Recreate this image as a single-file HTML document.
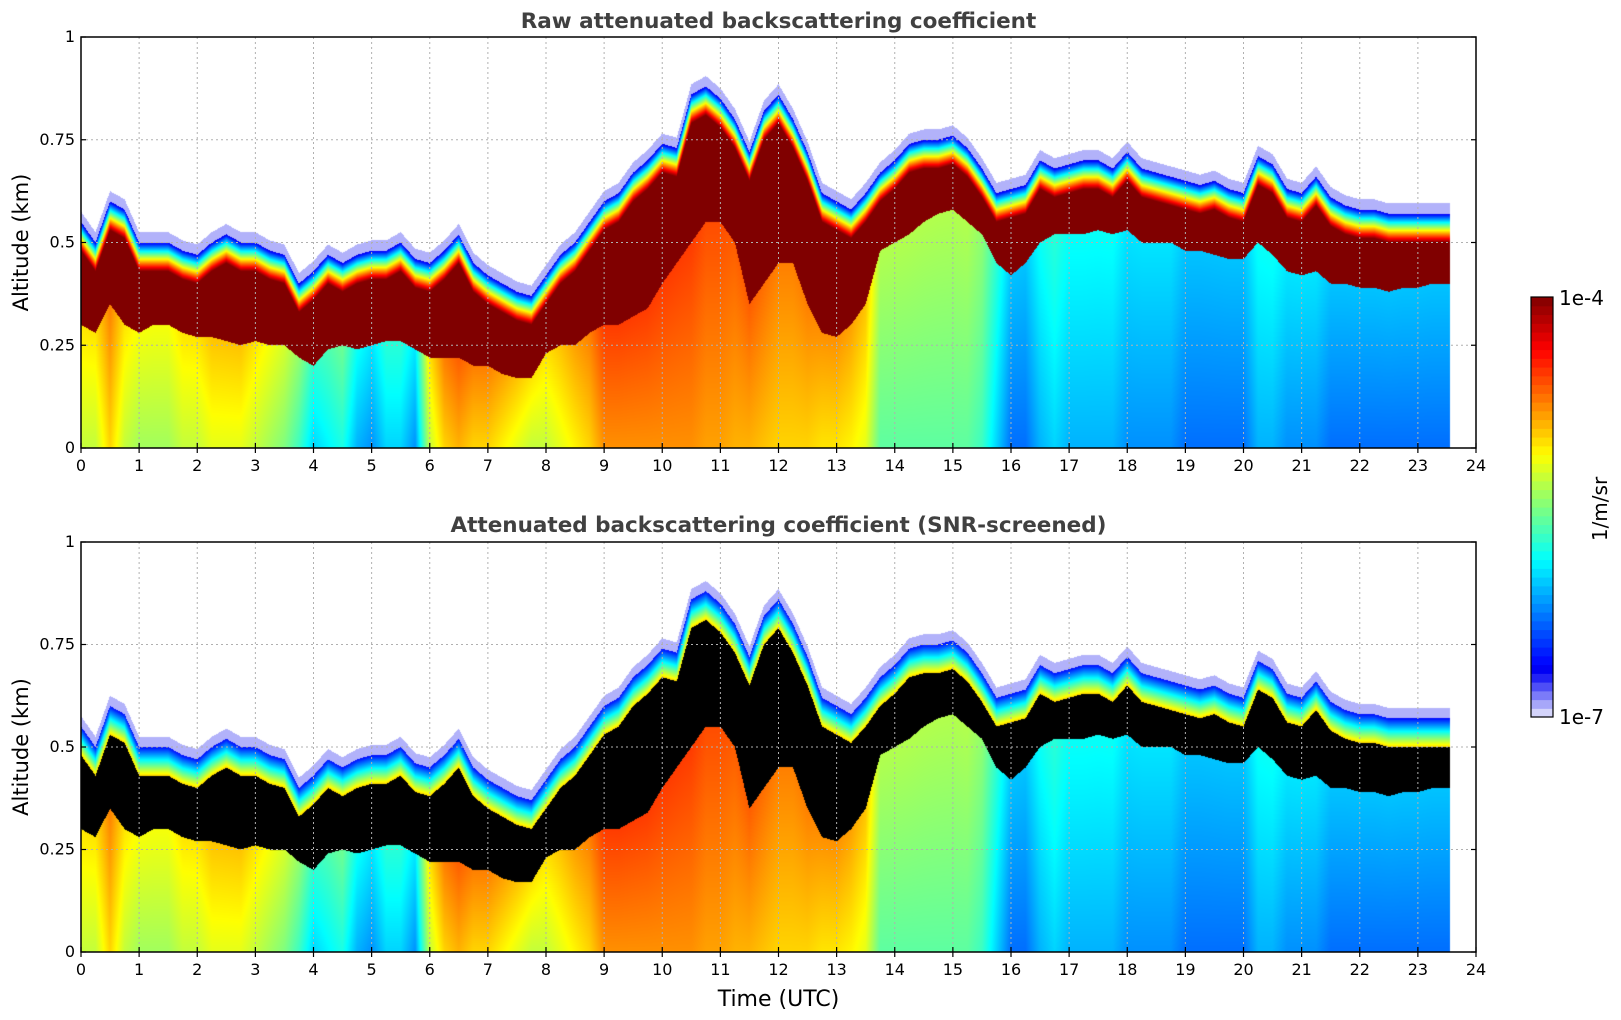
<!DOCTYPE html>
<html><head><meta charset="utf-8">
<style>
body{margin:0;background:#fff;width:1621px;height:1020px;overflow:hidden;position:relative;font-family:"DejaVu Sans","Liberation Sans",sans-serif}
canvas{position:absolute}
svg{position:absolute;left:0;top:0}
</style></head><body>
<canvas id="c1" width="1395" height="411" style="left:81px;top:37px"></canvas>
<canvas id="c2" width="1395" height="410" style="left:81px;top:542px"></canvas>
<svg id="ov" width="1621" height="1020"></svg>
<script>
const times=[0,0.25,0.5,0.75,1,1.25,1.5,1.75,2,2.25,2.5,2.75,3,3.25,3.5,3.75,4,4.25,4.5,4.75,5,5.25,5.5,5.75,6,6.25,6.5,6.75,7,7.25,7.5,7.75,8,8.25,8.5,8.75,9,9.25,9.5,9.75,10,10.25,10.5,10.75,11,11.25,11.5,11.75,12,12.25,12.5,12.75,13,13.25,13.5,13.75,14,14.25,14.5,14.75,15,15.25,15.5,15.75,16,16.25,16.5,16.75,17,17.25,17.5,17.75,18,18.25,18.5,18.75,19,19.25,19.5,19.75,20,20.25,20.5,20.75,21,21.25,21.5,21.75,22,22.25,22.5,22.75,23,23.25,23.5];
const cloudTop=[0.55,0.5,0.6,0.58,0.5,0.5,0.5,0.48,0.47,0.5,0.52,0.5,0.5,0.48,0.47,0.4,0.43,0.47,0.45,0.47,0.48,0.48,0.5,0.46,0.45,0.48,0.52,0.45,0.42,0.4,0.38,0.37,0.42,0.47,0.5,0.55,0.6,0.62,0.67,0.7,0.74,0.73,0.86,0.88,0.85,0.8,0.72,0.82,0.86,0.8,0.72,0.62,0.6,0.58,0.62,0.67,0.7,0.74,0.75,0.75,0.76,0.73,0.68,0.62,0.63,0.64,0.7,0.68,0.69,0.7,0.7,0.68,0.72,0.68,0.67,0.66,0.65,0.64,0.65,0.63,0.62,0.71,0.69,0.63,0.62,0.66,0.61,0.59,0.58,0.58,0.57,0.57,0.57,0.57,0.57];
const cloudBase=[0.3,0.28,0.35,0.3,0.28,0.3,0.3,0.28,0.27,0.27,0.26,0.25,0.26,0.25,0.25,0.22,0.2,0.24,0.25,0.24,0.25,0.26,0.26,0.24,0.22,0.22,0.22,0.2,0.2,0.18,0.17,0.17,0.23,0.25,0.25,0.28,0.3,0.3,0.32,0.34,0.4,0.45,0.5,0.55,0.55,0.5,0.35,0.4,0.45,0.45,0.35,0.28,0.27,0.3,0.35,0.48,0.5,0.52,0.55,0.57,0.58,0.55,0.52,0.45,0.42,0.45,0.5,0.52,0.52,0.52,0.53,0.52,0.53,0.5,0.5,0.5,0.48,0.48,0.47,0.46,0.46,0.5,0.47,0.43,0.42,0.43,0.4,0.4,0.39,0.39,0.38,0.39,0.39,0.4,0.4];
const lowLogBeta=[-5.3,-5.3,-5.0,-5.3,-5.4,-5.4,-5.4,-5.3,-5.3,-5.2,-5.2,-5.2,-5.3,-5.4,-5.5,-5.7,-6.0,-5.9,-5.8,-6.1,-6.2,-6.0,-6.0,-6.2,-5.3,-5.0,-4.9,-5.0,-5.0,-5.1,-5.2,-5.3,-5.3,-5.2,-5.1,-5.0,-4.8,-4.8,-4.8,-4.8,-4.8,-4.8,-4.8,-4.85,-4.85,-4.9,-4.9,-4.95,-5.0,-5.0,-5.0,-5.05,-5.05,-5.1,-5.2,-5.6,-5.6,-5.6,-5.6,-5.6,-5.6,-5.6,-5.7,-6.0,-6.3,-6.3,-6.1,-6.0,-6.1,-6.1,-6.1,-6.1,-6.2,-6.2,-6.2,-6.2,-6.3,-6.3,-6.3,-6.3,-6.3,-6.1,-6.1,-6.2,-6.2,-6.2,-6.3,-6.3,-6.3,-6.3,-6.3,-6.3,-6.3,-6.3,-6.3];
const xTicks=[0,1,2,3,4,5,6,7,8,9,10,11,12,13,14,15,16,17,18,19,20,21,22,23,24];
const yTicks=[0,0.25,0.5,0.75,1];
const yTickLabels=["0","0.25","0.5","0.75","1"];
const dataEnd=23.55;

const PL=81,PR=1476,panels=[{top:37,bot:448,cv:'c1',screened:false},{top:542,bot:952,cv:'c2',screened:true}];
const xScale=t=>PL+(PR-PL)*t/24;
function jet(v){
  const r=Math.min(Math.max(Math.min(4*v-1.5,-4*v+4.5),0),1);
  const g=Math.min(Math.max(Math.min(4*v-0.5,-4*v+3.5),0),1);
  const b=Math.min(Math.max(Math.min(4*v+0.5,-4*v+2.5),0),1);
  return [r*255,g*255,b*255];
}
function cmap(lg){
  let v=(lg+7)/3; v=Math.max(0,Math.min(1,v));
  if(v<0.1){const k=v/0.1;const l=[235,235,252],b=[20,20,245];return [l[0]+(b[0]-l[0])*k,l[1]+(b[1]-l[1])*k,l[2]+(b[2]-l[2])*k];}
  return jet(v);
}
function interp(arr,t){
  if(t<=times[0])return arr[0];
  for(let i=0;i<times.length-1;i++){if(t<=times[i+1]){const k=(t-times[i])/(times[i+1]-times[i]);return arr[i]+(arr[i+1]-arr[i])*k;}}
  return arr[arr.length-1];
}
panels.forEach(p=>{
  const cv=document.getElementById(p.cv),ctx=cv.getContext('2d');
  const W=cv.width,H=cv.height,img=ctx.createImageData(W,H),d=img.data;
  for(let x=0;x<W;x++){
    const t=(x+0.5)/W*24;
    for(let y=0;y<H;y++){
      const i=(y*W+x)*4;let c=[255,255,255];
      if(t<=dataEnd){
        const z=1-(y+0.5)/H;
        const top=interp(cloudTop,t),base=interp(cloudBase,t),low=interp(lowLogBeta,t);
        const tr=top-0.07;
        if(z<base){c=cmap(low+(z/Math.max(base,0.01))*0.25);}
        else if(z<tr){c=p.screened?[0,0,0]:cmap(-4.0);}
        else if(z<top){const k=(z-tr)/(top-tr);c=cmap((p.screened?-5.0:-4.0)+k*(p.screened?-1.6:-2.7));}
        else if(z<top+0.025){c=cmap(-6.92);}
      }
      d[i]=c[0];d[i+1]=c[1];d[i+2]=c[2];d[i+3]=255;
    }
  }
  ctx.putImageData(img,0,0);
});
const NS='http://www.w3.org/2000/svg',ov=document.getElementById('ov');
function mk(tag,attrs,txt){const e=document.createElementNS(NS,tag);for(const k in attrs)e.setAttribute(k,attrs[k]);if(txt!==undefined)e.textContent=txt;ov.appendChild(e);return e;}
const titles=["Raw attenuated backscattering coefficient","Attenuated backscattering coefficient (SNR-screened)"];
const titleY=[28,532];
panels.forEach((p,pi)=>{
  const yS=v=>p.bot-(p.bot-p.top)*v;
  xTicks.forEach((t,i)=>{
    const x=xScale(t);
    if(i>0&&i<xTicks.length-1){const g=mk('line',{x1:x,x2:x,y1:p.top,y2:p.bot,stroke:'#b0b0b0','stroke-dasharray':'2,3','stroke-width':1});}
    const tk=mk('line',{x1:x,x2:x,y1:p.bot-5,y2:p.bot+5,stroke:'#000','stroke-width':1.2});
    
    const lb=mk('text',{x:x,y:p.bot+23,'text-anchor':'middle','font-size':16,fill:'#000'},String(t));
    
  });
  yTicks.forEach((v,i)=>{
    const y=yS(v);
    if(i>0&&i<yTicks.length-1){const g=mk('line',{x1:PL,x2:PR,y1:y,y2:y,stroke:'#b0b0b0','stroke-dasharray':'2,3','stroke-width':1});}
    const tk=mk('line',{x1:PL,x2:PL+5,y1:y,y2:y,stroke:'#000','stroke-width':1.2});
    
    const tk2=mk('line',{x1:PR-5,x2:PR,y1:y,y2:y,stroke:'#000','stroke-width':1.2});
    
    const lb=mk('text',{x:PL-6,y:y+5,'text-anchor':'end','font-size':16,fill:'#000'},yTickLabels[i]);
    
  });
  const fr=mk('rect',{x:PL,y:p.top,width:PR-PL,height:p.bot-p.top,fill:'none',stroke:'#000','stroke-width':1.5});
  
  const ti=mk('text',{x:(PL+PR)/2,y:titleY[pi],'text-anchor':'middle','font-size':21.5,'font-weight':'bold',fill:'#404040'},titles[pi]);
  
  const yl=mk('text',{x:0,y:0,'text-anchor':'middle','font-size':21,fill:'#000',transform:`translate(28,${(p.top+p.bot)/2}) rotate(-90)`},'Altitude (km)');
  
});
const xt=mk('text',{x:(PL+PR)/2,y:1006,'text-anchor':'middle','font-size':22,fill:'#000'},'Time (UTC)');

const cbX=1531,cbW=22,cbT=297,cbB=717,nSeg=48;
for(let i=0;i<nSeg;i++){
  const lg=-7+3*(i+0.5)/nSeg,c=cmap(lg),h=(cbB-cbT)/nSeg;
  const r=mk('rect',{x:cbX,y:cbB-(i+1)*h,width:cbW,height:h+0.6,fill:`rgb(${c[0]|0},${c[1]|0},${c[2]|0})`});
  
}
const cf=mk('rect',{x:cbX,y:cbT,width:cbW,height:cbB-cbT,fill:'none',stroke:'#000','stroke-width':1.2});

const c1=mk('text',{x:1559,y:305,'font-size':20,fill:'#000'},'1e-4');

const c2=mk('text',{x:1559,y:724,'font-size':20,fill:'#000'},'1e-7');

const cu=mk('text',{x:0,y:0,'text-anchor':'middle','font-size':20,fill:'#000',transform:'translate(1607,509) rotate(-90)'},'1/m/sr');

</script>
</body></html>
